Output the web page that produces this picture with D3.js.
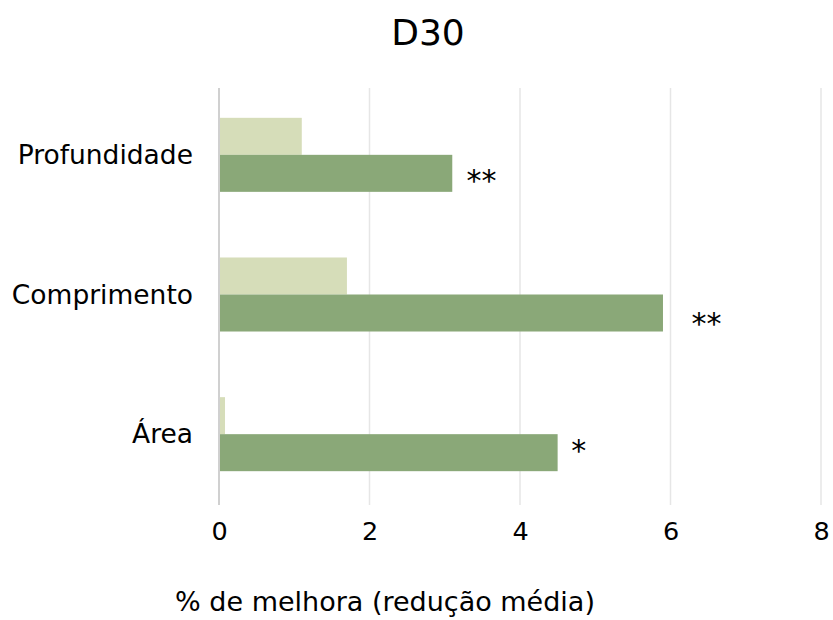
<!DOCTYPE html>
<html>
<head>
<meta charset="utf-8">
<script src="https://cdn.jsdelivr.net/npm/d3@7"></script>
<style>
  body { margin: 0; background: #fff; }
  text { font-family: "DejaVu Sans", Verdana, sans-serif; fill: #000; }
</style>
</head>
<body>
<div id="chart"></div>
<script>
// D30 horizontal grouped bars

var categories = ["Profundidade", "Comprimento", "Área"];
var lightValues = [1.1, 1.7, 0.08];
var darkValues = [3.1, 5.9, 4.5];
var stars = ["**", "**", "*"];
var starX = [3.29, 6.28, 4.68];
var xTicks = [0, 2, 4, 6, 8];

var width = 833, height = 620;

var svg = d3.select("#chart").append("svg")
    .attr("width", width)
    .attr("height", height);

var x = d3.scaleLinear().domain([0, 8]).range([219, 821]);

var y = d3.scaleBand()
    .domain(categories)
    .range([85, 504])
    .paddingInner(0.47)
    .paddingOuter(0.235);

var half = y.bandwidth() / 2;

// gridlines
svg.append("g").selectAll("line")
    .data(xTicks.slice(1))
  .enter().append("line")
    .attr("x1", d => x(d)).attr("x2", d => x(d))
    .attr("y1", 88).attr("y2", 505)
    .attr("stroke", "#e6e6e6")
    .attr("stroke-width", 1.5);

var rows = svg.append("g").selectAll("g")
    .data(categories)
  .enter().append("g");

rows.append("rect")
    .attr("x", x(0))
    .attr("y", d => y(d))
    .attr("width", (d, i) => x(lightValues[i]) - x(0))
    .attr("height", half)
    .attr("fill", "#d6ddb9");

rows.append("rect")
    .attr("x", x(0))
    .attr("y", d => y(d) + half)
    .attr("width", (d, i) => x(darkValues[i]) - x(0))
    .attr("height", half)
    .attr("fill", "#8aa878");

// significance marks, nudged a bit per row like the original
var starDy = [18, 21, 8];
rows.append("text")
    .attr("x", (d, i) => x(starX[i]))
    .attr("y", (d, i) => y(d) + half * 1.5 + starDy[i])
    .attr("font-size", 30)
    .text((d, i) => stars[i]);

// zero axis line
svg.append("line")
    .attr("x1", x(0)).attr("x2", x(0))
    .attr("y1", 88).attr("y2", 505)
    .attr("stroke", "#d0d0d0")
    .attr("stroke-width", 2);

// category labels
svg.append("g").selectAll("text")
    .data(categories)
  .enter().append("text")
    .attr("x", 193)
    .attr("y", d => y(d) + half)
    .attr("dy", "0.35em")
    .attr("text-anchor", "end")
    .attr("font-size", 26.5)
    .text(d => d);

// x axis labels
var xAxis = d3.axisBottom(x).tickValues(xTicks).tickSize(0).tickPadding(0);
var gx = svg.append("g")
    .attr("transform", "translate(0,522)")
    .call(xAxis);
gx.select(".domain").remove();
gx.selectAll("text")
    .attr("font-size", 25.5)
    .attr("dy", "0.71em")
    .style("font-family", "DejaVu Sans, Verdana, sans-serif")
    .attr("fill", "#000");

svg.append("text")
    .attr("x", 385)
    .attr("y", 611)
    .attr("text-anchor", "middle")
    .attr("font-size", 27)
    .text("% de melhora (redução média)");

svg.append("text")
    .attr("x", 428)
    .attr("y", 45)
    .attr("text-anchor", "middle")
    .attr("font-size", 36)
    .text("D30");
</script>
</body>
</html>
